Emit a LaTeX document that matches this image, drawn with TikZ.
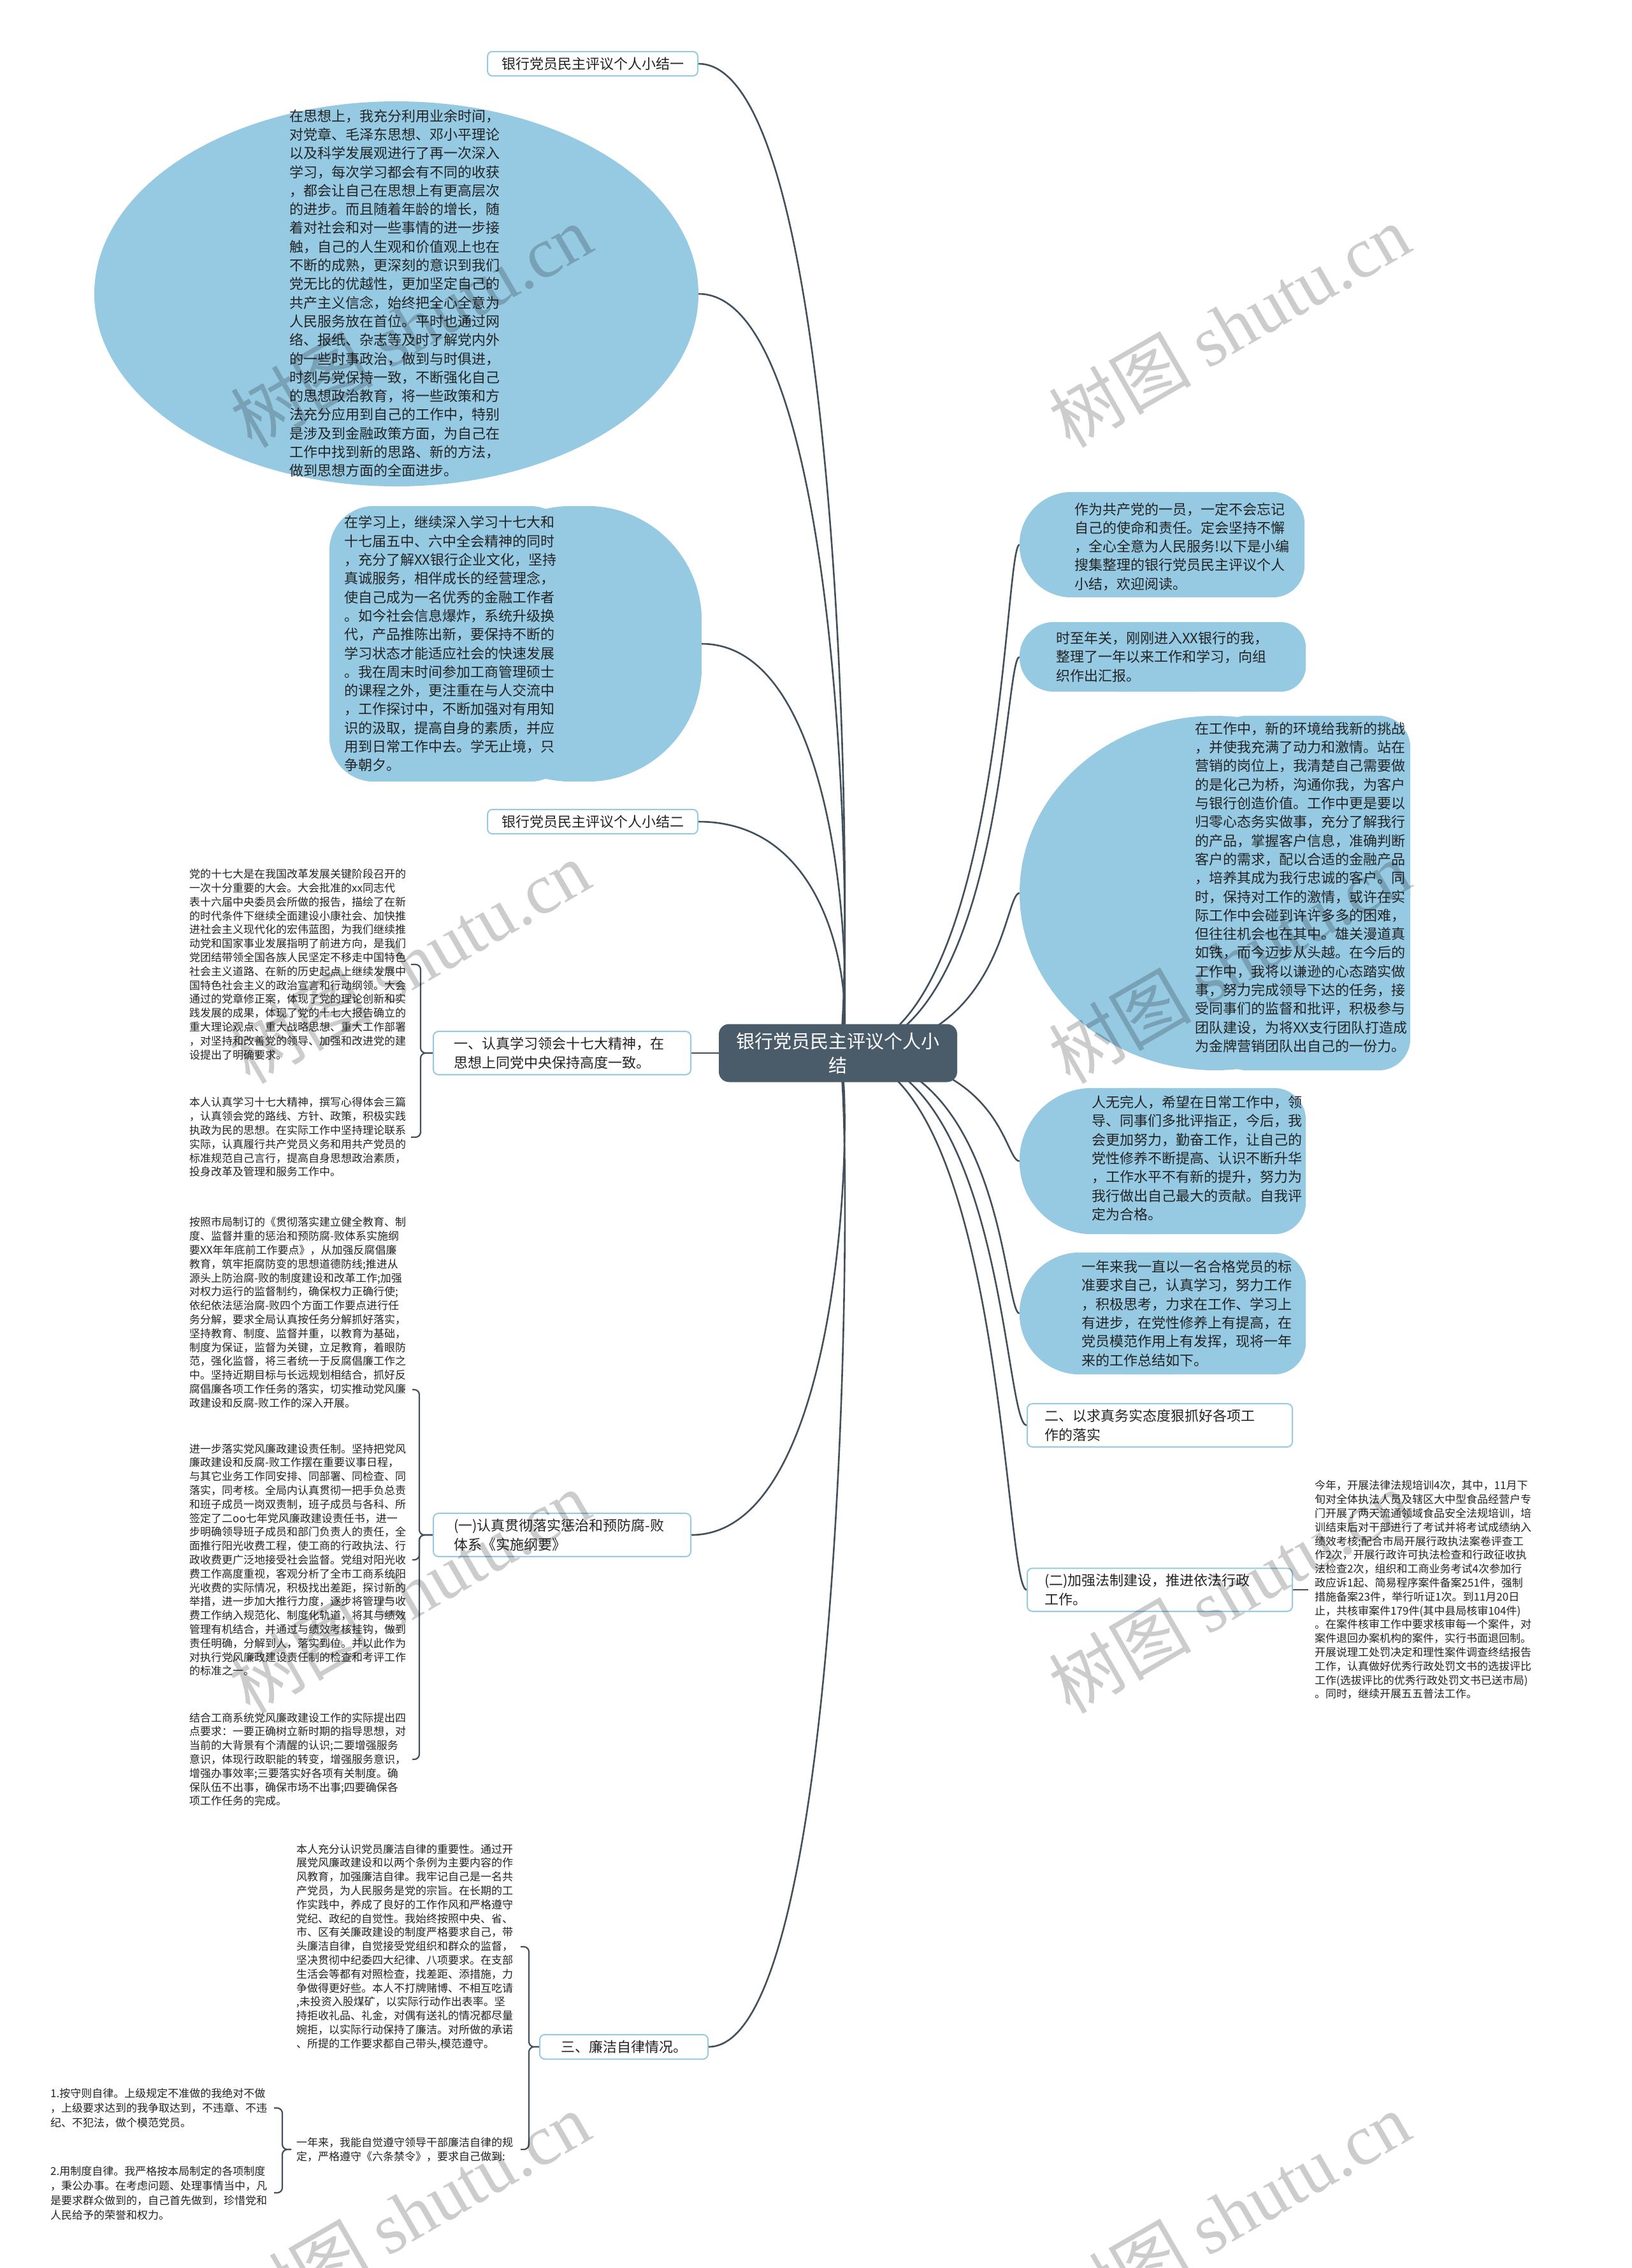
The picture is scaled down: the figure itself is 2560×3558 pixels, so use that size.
\documentclass[tikz,border=0pt]{standalone}
\usepackage{fontspec}
\setmainfont{Noto Sans CJK SC}
\newfontfamily\wmserif{Liberation Serif}
\usetikzlibrary{backgrounds,shapes.geometric}
\definecolor{bub}{RGB}{150,202,227}
\definecolor{centfill}{RGB}{74,91,106}
\definecolor{conncol}{RGB}{66,80,92}
\definecolor{lblborder}{RGB}{150,202,227}
\definecolor{txt}{RGB}{35,35,35}
\begin{document}
\begin{tikzpicture}[x=1pt,y=-1pt,
  conn/.style={draw=conncol, line width=2.6pt},
  bracecon/.style={draw=conncol, line width=2.2pt, rounded corners=8pt},
  bigtxt/.style={font=\fontsize{22pt}{29.3pt}\selectfont, text=txt, align=left, inner sep=0pt, anchor=west},
  smalltxt/.style={font=\fontsize{17pt}{21.8pt}\selectfont, text=txt, align=left, inner sep=0pt, anchor=west},
  lbl/.style={draw=lblborder, line width=2pt, fill=white, rounded corners=8pt, font=\fontsize{22pt}{29.3pt}\selectfont, text=txt, align=left, inner xsep=28pt, inner ysep=9pt},
  shapebox/.style={draw=none, inner sep=0pt, rectangle},
  maintopic/.style={fill=centfill, rounded corners=16pt, text=white, font=\fontsize{29pt}{38pt}\selectfont, align=center, minimum width=374pt, minimum height=91pt, inner sep=0pt},
  wm/.style={rotate=30, text=black, text opacity=0.2, font=\fontsize{112pt}{112pt}\selectfont, inner sep=0pt}
]
\useasboundingbox (0,0) rectangle (2560,3558);

% ---------- bubble shapes ----------
\node[ellipse, fill=bub, minimum width=948pt, minimum height=604pt, inner sep=0pt] (L2) at (622,461) {};

\node[shapebox, minimum width=584pt, minimum height=432pt] (L3) at (809,1010) {};
\fill[bub, rounded corners=70pt] (L3.north west) rectangle ([xshift=-200pt]L3.south east);
\fill[bub, rounded corners=180pt] ([xshift=200pt]L3.north west) rectangle (L3.south east);

\node[shapebox, minimum width=447pt, minimum height=165pt] (R1) at (1823.5,854.5) {};
\fill[bub, rounded corners=82pt] (R1.north west) rectangle ([xshift=-120pt]R1.south east);
\fill[bub, rounded corners=50pt] ([xshift=120pt]R1.north west) rectangle (R1.south east);

\node[shapebox, minimum width=449pt, minimum height=109pt] (R2) at (1824.5,1030.5) {};
\fill[bub, rounded corners=54pt] (R2.north west) rectangle ([xshift=-120pt]R2.south east);
\fill[bub, rounded corners=40pt] ([xshift=120pt]R2.north west) rectangle (R2.south east);

\node[shapebox, minimum width=613pt, minimum height=556pt] (R3) at (1906.5,1401) {};
\fill[bub] (R3.center) ellipse [x radius=306.5pt, y radius=278pt];
\fill[bub, rounded corners=50pt] (R3.north) rectangle (R3.south east);

\node[shapebox, minimum width=449pt, minimum height=229pt] (R4) at (1824.5,1821.5) {};
\fill[bub, rounded corners=114pt] (R4.north west) rectangle ([xshift=-120pt]R4.south east);
\fill[bub, rounded corners=50pt] ([xshift=120pt]R4.north west) rectangle (R4.south east);

\node[shapebox, minimum width=449pt, minimum height=191pt] (R5) at (1824.5,2060.5) {};
\fill[bub, rounded corners=95pt] (R5.north west) rectangle ([xshift=-120pt]R5.south east);
\fill[bub, rounded corners=50pt] ([xshift=120pt]R5.north west) rectangle (R5.south east);

% ---------- bubble texts ----------
\node[bigtxt] (L2t) at (454,460) {在思想上，我充分利用业余时间，\\对党章、毛泽东思想、邓小平理论\\以及科学发展观进行了再一次深入\\学习，每次学习都会有不同的收获\\，都会让自己在思想上有更高层次\\的进步。而且随着年龄的增长，随\\着对社会和对一些事情的进一步接\\触，自己的人生观和价值观上也在\\不断的成熟，更深刻的意识到我们\\党无比的优越性，更加坚定自己的\\共产主义信念，始终把全心全意为\\人民服务放在首位。平时也通过网\\络、报纸、杂志等及时了解党内外\\的一些时事政治，做到与时俱进，\\时刻与党保持一致，不断强化自己\\的思想政治教育，将一些政策和方\\法充分应用到自己的工作中，特别\\是涉及到金融政策方面，为自己在\\工作中找到新的思路、新的方法，\\做到思想方面的全面进步。};

\node[bigtxt] (L3t) at ([xshift=23pt]L3.west) {在学习上，继续深入学习十七大和\\十七届五中、六中全会精神的同时\\，充分了解XX银行企业文化，坚持\\真诚服务，相伴成长的经营理念，\\使自己成为一名优秀的金融工作者\\。如今社会信息爆炸，系统升级换\\代，产品推陈出新，要保持不断的\\学习状态才能适应社会的快速发展\\。我在周末时间参加工商管理硕士\\的课程之外，更注重在与人交流中\\，工作探讨中，不断加强对有用知\\识的汲取，提高自身的素质，并应\\用到日常工作中去。学无止境，只\\争朝夕。};

\node[bigtxt] (R1t) at ([xshift=86pt,yshift=-3pt]R1.west) {作为共产党的一员，一定不会忘记\\自己的使命和责任。定会坚持不懈\\，全心全意为人民服务!以下是小编\\搜集整理的银行党员民主评议个人\\小结，欢迎阅读。};

\node[bigtxt] (R2t) at ([xshift=57pt]R2.west) {时至年关，刚刚进入XX银行的我，\\整理了一年以来工作和学习，向组\\织作出汇报。};

\node[bigtxt] (R3t) at ([xshift=275pt,yshift=9pt]R3.west) {在工作中，新的环境给我新的挑战\\，并使我充满了动力和激情。站在\\营销的岗位上，我清楚自己需要做\\的是化己为桥，沟通你我，为客户\\与银行创造价值。工作中更是要以\\归零心态务实做事，充分了解我行\\的产品，掌握客户信息，准确判断\\客户的需求，配以合适的金融产品\\，培养其成为我行忠诚的客户。同\\时，保持对工作的激情，或许在实\\际工作中会碰到许许多多的困难，\\但往往机会也在其中。雄关漫道真\\如铁，而今迈步从头越。在今后的\\工作中，我将以谦逊的心态踏实做\\事，努力完成领导下达的任务，接\\受同事们的监督和批评，积极参与\\团队建设，为将XX支行团队打造成\\为金牌营销团队出自己的一份力。};

\node[bigtxt] (R4t) at ([xshift=113pt,yshift=4.5pt]R4.west) {人无完人，希望在日常工作中，领\\导、同事们多批评指正，今后，我\\会更加努力，勤奋工作，让自己的\\党性修养不断提高、认识不断升华\\，工作水平不有新的提升，努力为\\我行做出自己最大的贡献。自我评\\定为合格。};

\node[bigtxt] (R5t) at ([xshift=97pt]R5.west) {一年来我一直以一名合格党员的标\\准要求自己，认真学习，努力工作\\，积极思考，力求在工作、学习上\\有进步，在党性修养上有提高，在\\党员模范作用上有发挥，现将一年\\来的工作总结如下。};

% ---------- plain text blocks ----------
\node[smalltxt] (T1) at (297,1513) {党的十七大是在我国改革发展关键阶段召开的\\一次十分重要的大会。大会批准的xx同志代\\表十六届中央委员会所做的报告，描绘了在新\\的时代条件下继续全面建设小康社会、加快推\\进社会主义现代化的宏伟蓝图，为我们继续推\\动党和国家事业发展指明了前进方向，是我们\\党团结带领全国各族人民坚定不移走中国特色\\社会主义道路、在新的历史起点上继续发展中\\国特色社会主义的政治宣言和行动纲领。大会\\通过的党章修正案，体现了党的理论创新和实\\践发展的成果，体现了党的十七大报告确立的\\重大理论观点、重大战略思想、重大工作部署\\，对坚持和改善党的领导、加强和改进党的建\\设提出了明确要求。};

\node[smalltxt] (T2) at (297,1784) {本人认真学习十七大精神，撰写心得体会三篇\\，认真领会党的路线、方针、政策，积极实践\\执政为民的思想。在实际工作中坚持理论联系\\实际，认真履行共产党员义务和用共产党员的\\标准规范自己言行，提高自身思想政治素质，\\投身改革及管理和服务工作中。};

\node[smalltxt] (T3) at (297,2059) {按照市局制订的《贯彻落实建立健全教育、制\\度、监督并重的惩治和预防腐-败体系实施纲\\要XX年年底前工作要点》，从加强反腐倡廉\\教育，筑牢拒腐防变的思想道德防线;推进从\\源头上防治腐-败的制度建设和改革工作;加强\\对权力运行的监督制约，确保权力正确行使;\\依纪依法惩治腐-败四个方面工作要点进行任\\务分解，要求全局认真按任务分解抓好落实，\\坚持教育、制度、监督并重，以教育为基础，\\制度为保证，监督为关键，立足教育，着眼防\\范，强化监督，将三者统一于反腐倡廉工作之\\中。坚持近期目标与长远规划相结合，抓好反\\腐倡廉各项工作任务的落实，切实推动党风廉\\政建设和反腐-败工作的深入开展。};

\node[smalltxt] (T4) at (297,2447) {进一步落实党风廉政建设责任制。坚持把党风\\廉政建设和反腐-败工作摆在重要议事日程，\\与其它业务工作同安排、同部署、同检查、同\\落实，同考核。全局内认真贯彻一把手负总责\\和班子成员一岗双责制，班子成员与各科、所\\签定了二oo七年党风廉政建设责任书，进一\\步明确领导班子成员和部门负责人的责任，全\\面推行阳光收费工程，使工商的行政执法、行\\政收费更广泛地接受社会监督。党组对阳光收\\费工作高度重视，客观分析了全市工商系统阳\\光收费的实际情况，积极找出差距，探讨新的\\举措，进一步加大推行力度，逐步将管理与收\\费工作纳入规范化、制度化轨道，将其与绩效\\管理有机结合，并通过与绩效考核挂钩，做到\\责任明确，分解到人，落实到位。并以此作为\\对执行党风廉政建设责任制的检查和考评工作\\的标准之一。};

\node[smalltxt] (T5) at (297,2760) {结合工商系统党风廉政建设工作的实际提出四\\点要求：一要正确树立新时期的指导思想，对\\当前的大背景有个清醒的认识;二要增强服务\\意识，体现行政职能的转变，增强服务意识，\\增强办事效率;三要落实好各项有关制度。确\\保队伍不出事，确保市场不出事;四要确保各\\项工作任务的完成。};

\node[smalltxt] (T6) at (465,3054) {本人充分认识党员廉洁自律的重要性。通过开\\展党风廉政建设和以两个条例为主要内容的作\\风教育，加强廉洁自律。我牢记自己是一名共\\产党员，为人民服务是党的宗旨。在长期的工\\作实践中，养成了良好的工作作风和严格遵守\\党纪、政纪的自觉性。我始终按照中央、省、\\市、区有关廉政建设的制度严格要求自己，带\\头廉洁自律，自觉接受党组织和群众的监督，\\坚决贯彻中纪委四大纪律、八项要求。在支部\\生活会等都有对照检查，找差距、添措施，力\\争做得更好些。本人不打牌赌博、不相互吃请\\,未投资入股煤矿，以实际行动作出表率。坚\\持拒收礼品、礼金，对偶有送礼的情况都尽量\\婉拒，以实际行动保持了廉洁。对所做的承诺\\、所提的工作要求都自己带头,模范遵守。};

\node[smalltxt] (T7) at (465,3372) {一年来，我能自觉遵守领导干部廉洁自律的规\\定，严格遵守《六条禁令》，要求自己做到:};

\node[smalltxt, font=\fontsize{17pt}{23pt}\selectfont] (T8) at (79,3307) {1.按守则自律。上级规定不准做的我绝对不做\\，上级要求达到的我争取达到，不违章、不违\\纪、不犯法，做个模范党员。};

\node[smalltxt, font=\fontsize{17pt}{23pt}\selectfont] (T9) at (79,3440) {2.用制度自律。我严格按本局制定的各项制度\\，秉公办事。在考虑问题、处理事情当中，凡\\是要求群众做到的，自己首先做到，珍惜党和\\人民给予的荣誉和权力。};

\node[smalltxt] (T10) at (2063,2494) {今年，开展法律法规培训4次，其中，11月下\\旬对全体执法人员及辖区大中型食品经营户专\\门开展了两天流通领域食品安全法规培训，培\\训结束后对干部进行了考试并将考试成绩纳入\\绩效考核;配合市局开展行政执法案卷评查工\\作2次，开展行政许可执法检查和行政征收执\\法检查2次，组织和工商业务考试4次参加行\\政应诉1起、简易程序案件备案251件，强制\\措施备案23件，举行听证1次。到11月20日\\止，共核审案件179件(其中县局核审104件)\\。在案件核审工作中要求核审每一个案件，对\\案件退回办案机构的案件，实行书面退回制。\\开展说理工处罚决定和理性案件调查终结报告\\工作，认真做好优秀行政处罚文书的选拔评比\\工作(选拔评比的优秀行政处罚文书已送市局)\\。同时，继续开展五五普法工作。};

% ---------- label nodes ----------
\node[lbl, inner xsep=22pt, anchor=east] (L1) at (1096,100) {银行党员民主评议个人小结一};
\node[lbl, inner xsep=22pt, anchor=east] (L4) at (1096,1289) {银行党员民主评议个人小结二};
\node[lbl, inner xsep=32pt, text width=340pt, anchor=east] (L5) at (1085,1652) {一、认真学习领会十七大精神，在\\思想上同党中央保持高度一致。};
\node[lbl, inner xsep=32pt, text width=340pt, anchor=east] (L6) at (1085,2408) {(一)认真贯彻落实惩治和预防腐-败\\体系《实施纲要》};
\node[lbl, inner xsep=33pt, anchor=east] (L7) at (1112,3211) {三、廉洁自律情况。};
\node[lbl, inner xsep=27pt, text width=362pt, anchor=west] (R6) at (1611,2236) {二、以求真务实态度狠抓好各项工\\作的落实};
\node[lbl, inner xsep=27pt, text width=362pt, anchor=west] (R7) at (1611,2494) {(二)加强法制建设，推进依法行政\\工作。};

% ---------- central topic ----------
\node[maintopic] (c) at (1315,1652) {银行党员民主评议个人小\\结};

% ---------- helper coordinates for brackets ----------
\coordinate (h5) at (645,1652);  \coordinate (v5) at (660,1652);
\coordinate (h6) at (647,2408);  \coordinate (v6) at (658,2408);
\coordinate (h7) at (817,3211);  \coordinate (v7) at (830,3211);
\coordinate (h8) at (430,3372);  \coordinate (v8) at (443,3372);
\coordinate (T3hook) at ([yshift=-121pt]T3.east);
\coordinate (T7in) at ([xshift=-8pt]T7.west);
\coordinate (T10in) at ([xshift=-10pt]T10.west);

% ---------- connectors ----------
\begin{pgfonlayer}{background}
\fill[white] (0,0) rectangle (2560,3558);
% left
\draw[conn] (c.center) .. controls +(25,0) and +(245,0) .. (L1.east);
\draw[conn] (c.center) .. controls +(25,0) and +(245,0) .. (L2.east);
\draw[conn] (c.center) .. controls +(25,0) and +(240,0) .. (L3.east);
\draw[conn] (c.center) .. controls +(25,0) and +(245,0) .. (L4.east);
\draw[conn] (c.center) -- (L5.east);
\draw[conn] (c.center) .. controls +(25,0) and +(255,0) .. (L6.east);
\draw[conn] (c.center) .. controls +(25,0) and +(228,0) .. (L7.east);
% right
\draw[conn] (c.center) .. controls +(260,0) and +(-25,0) .. (R1.west);
\draw[conn] (c.center) .. controls +(260,0) and +(-25,0) .. (R2.west);
\draw[conn] (c.center) .. controls +(260,0) and +(-25,0) .. (R3.west);
\draw[conn] (c.center) .. controls +(260,0) and +(-25,0) .. (R4.west);
\draw[conn] (c.center) .. controls +(260,0) and +(-25,0) .. (R5.west);
\draw[conn] (c.center) .. controls +(260,0) and +(-36,0) .. (R6.west);
\draw[conn] (c.center) .. controls +(260,0) and +(-36,0) .. (R7.west);
\draw[conn] (R7.east) -- (T10in);
% brackets
\draw[bracecon] (T1.east -| h5) -- (T1.east -| v5) -- (v5) -- (L5.west);
\draw[bracecon] (T2.east -| h5) -- (T2.east -| v5) -- (v5) -- (L5.west);
\draw[bracecon] (T3hook -| h6) -- (T3hook -| v6) -- (v6) -- (L6.west);
\draw[bracecon] (T4.east -| h6) -- (T4.east -| v6) -- (v6) -- (L6.west);
\draw[bracecon] (T5.east -| h6) -- (T5.east -| v6) -- (v6) -- (L6.west);
\draw[bracecon] (T6.east -| h7) -- (T6.east -| v7) -- (v7) -- (L7.west);
\draw[bracecon] (T7.east -| h7) -- (T7.east -| v7) -- (v7) -- (L7.west);
\draw[bracecon] (T8.east -| h8) -- (T8.east -| v8) -- (v8) -- (T7in);
\draw[bracecon] (T9.east -| h8) -- (T9.east -| v8) -- (v8) -- (T7in);
\end{pgfonlayer}

% ---------- watermarks ----------
\node[wm] (wm1) at (645,511) {树图 {\wmserif shutu.cn}};
\node[wm] (wm2) at (1929,511) {树图 {\wmserif shutu.cn}};
\node[wm] (wm3) at (642,1509) {树图 {\wmserif shutu.cn}};
\node[wm] (wm4) at (1929,1509) {树图 {\wmserif shutu.cn}};
\node[wm] (wm5) at (642,2497) {树图 {\wmserif shutu.cn}};
\node[wm] (wm6) at (1929,2497) {树图 {\wmserif shutu.cn}};
\node[wm] (wm7) at (642,3472) {树图 {\wmserif shutu.cn}};
\node[wm] (wm8) at (1929,3472) {树图 {\wmserif shutu.cn}};
\end{tikzpicture}
\end{document}
